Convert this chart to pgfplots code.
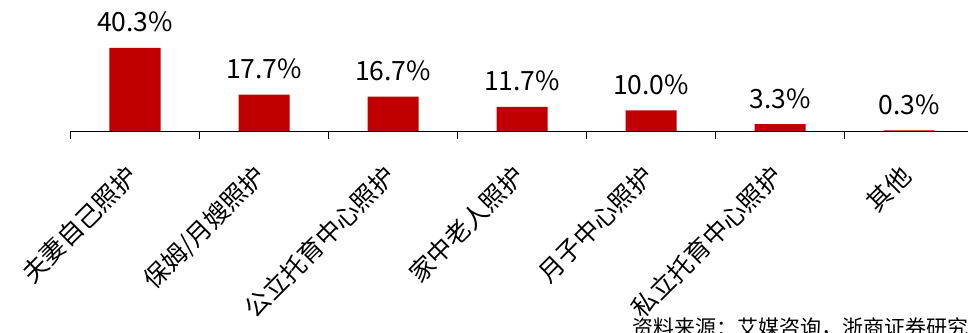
\documentclass[border=0pt]{standalone}
\usepackage{pgfplots}
\pgfplotsset{compat=1.18}
\usepackage{fontspec}
\setmainfont{Noto Sans CJK SC}
\definecolor{barred}{HTML}{C00000}
\begin{document}
\begin{tikzpicture}
\path[use as bounding box] (-70.5pt,-201pt) rectangle (897.5pt,131pt);
\clip (-70.5pt,-201pt) rectangle (897.5pt,131pt);
\begin{axis}[
  at={(0pt,0pt)}, anchor=south west,
  scale only axis, width=903pt, height=103pt,
  xmin=-0.5, xmax=6.5, ymin=0, ymax=50,
  axis on top,
  axis x line=bottom, axis y line=none,
  axis line style={-, black, line width=1pt},
  /pgf/number format/assume math mode=true,
  xtick={0,...,6},
  xticklabels={夫妻自己照护,保姆/月嫂照护,公立托育中心照护,家中老人照护,月子中心照护,私立托育中心照护,其他},
  major tick length=0pt,
  extra x ticks={-0.5,0.5,1.5,2.5,3.5,4.5,5.5,6.5},
  extra x tick labels={},
  extra x tick style={major tick length=8pt, tick align=outside, tick style={black, line width=1pt}},
  xticklabel style={font=\fontsize{25}{28}\selectfont, yshift=-38pt, rotate=45, anchor=east},
  ybar, bar width=51pt,
  nodes near coords={\pgfmathprintnumber[fixed, fixed zerofill, precision=1]{\pgfplotspointmeta}\%},
  nodes near coords style={font=\fontsize{26.5}{30}\selectfont, anchor=base, yshift=16pt, inner sep=0pt},
  point meta=y,
]
\addplot[fill=barred, draw=none] coordinates {(0,40.3) (1,17.7) (2,16.7) (3,11.7) (4,10.0) (5,3.3) (6,0.3)};
\end{axis}
\node[anchor=north west, font=\fontsize{21}{24}\selectfont, inner sep=0pt] at (561.5pt,-187pt) {资料来源：艾媒咨询，浙商证券研究所};
\end{tikzpicture}
\end{document}
